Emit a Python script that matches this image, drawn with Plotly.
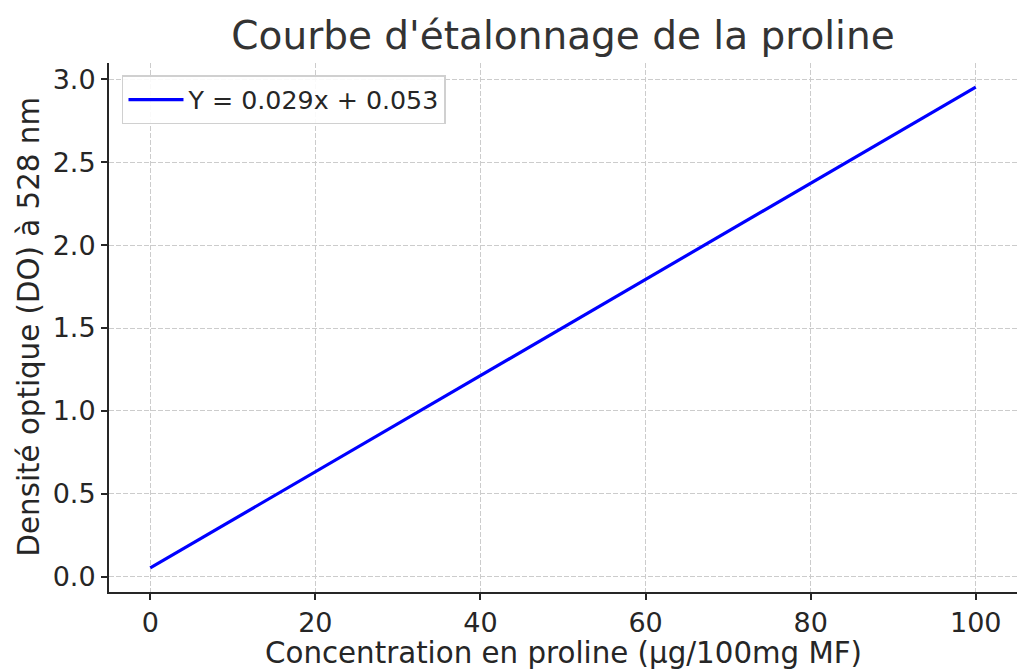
import plotly.graph_objects as go

concentration = [0, 100]
densite_optique = [0.053, 2.953]
legend_label = "Y = 0.029x + 0.053"
x_ticks = [0, 20, 40, 60, 80, 100]
y_ticks = [0.0, 0.5, 1.0, 1.5, 2.0, 2.5, 3.0]
y_tick_text = ["0.0", "0.5", "1.0", "1.5", "2.0", "2.5", "3.0"]

FONT = "DejaVu Sans"
INK = "#262626"

fig = go.Figure()
fig.add_trace(go.Scatter(
    x=concentration, y=densite_optique, mode="lines",
    line=dict(color="#0000ff", width=3.2), name=legend_label, showlegend=True,
))

axis_common = dict(
    showline=True, linecolor=INK, linewidth=2, mirror=False,
    ticks="outside", ticklen=6, tickwidth=2, tickcolor=INK,
    showgrid=True, gridcolor="#cccccc", griddash="5px,2px", gridwidth=1.2,
    zeroline=False, tickfont=dict(family=FONT, size=27, color=INK),
    automargin=False,
)

fig.update_layout(
    width=1019, height=670,
    margin=dict(l=109, r=2, t=63, b=78),
    paper_bgcolor="white", plot_bgcolor="white",
    title=dict(text="Courbe d'étalonnage de la proline", x=563 / 1019, xanchor="center",
               y=1 - 35 / 670, yanchor="middle",
               font=dict(family=FONT, size=39, color="#333333")),
    xaxis=dict(axis_common, range=[-5, 105], tickvals=x_ticks),
    yaxis=dict(axis_common, range=[-0.092, 3.098], tickvals=y_ticks, ticktext=y_tick_text),
    legend=dict(x=0.0143, y=0.977, xanchor="left", yanchor="top",
                bgcolor="rgba(255,255,255,0.9)", bordercolor="#d0d0d0", borderwidth=1.5,
                itemwidth=55,
                font=dict(family=FONT, size=25.3, color=INK)),
    showlegend=True,
    annotations=[
        dict(text="Concentration en proline (µg/100mg MF)", xref="paper", yref="paper",
             x=0.5, y=-(653 - 592) / 529, xanchor="center", yanchor="middle",
             showarrow=False, font=dict(family=FONT, size=29.3, color=INK)),
        dict(text="Densité optique (DO) à 528 nm", xref="paper", yref="paper",
             x=-(109 - 28) / 908, y=0.5, xanchor="center", yanchor="middle", textangle=-90,
             showarrow=False, font=dict(family=FONT, size=29.3, color=INK)),
    ],
)

fig.write_html(
    "out.html",
    config={"displayModeBar": False},
    post_script="document.body.style.margin='0';document.body.style.padding='0';document.body.style.overflow='hidden';",
)
